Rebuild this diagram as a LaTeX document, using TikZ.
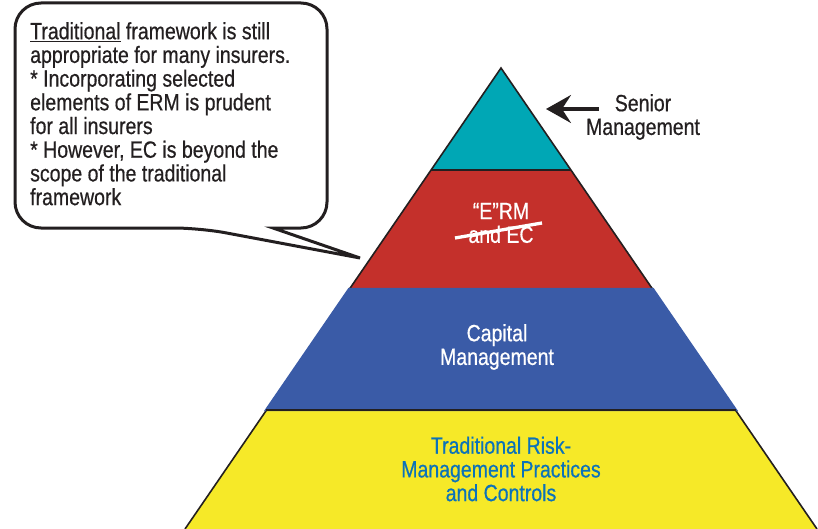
\documentclass[tikz,border=0pt]{standalone}
\usepackage{fontspec}
\setmainfont[FakeStretch=0.83,FakeBold=0.5]{Liberation Sans}
\usetikzlibrary{arrows.meta}
\definecolor{tealband}{HTML}{00A7B5}
\definecolor{redband}{HTML}{C4302B}
\definecolor{blueband}{HTML}{3A5BA7}
\definecolor{yellowband}{HTML}{F6E928}
\definecolor{textblue}{HTML}{0B72BA}
\definecolor{ink}{HTML}{231F20}
\begin{document}
\begin{tikzpicture}[x=1pt,y=-1pt,
  lbl/.style={font=\fontsize{23.5}{23.7}\selectfont, align=center, inner sep=0pt},
  edge/.style={draw=ink, line width=1.6pt, line join=miter},
  callout/.style={draw=ink, line width=3pt, fill=white, line join=miter}]
\useasboundingbox (0,0) rectangle (818,529);
% pyramid corners
\coordinate (apex) at (501,68);
\coordinate (l1) at (431,170); \coordinate (r1) at (571,170);
\coordinate (l2) at (349,289); \coordinate (r2) at (653,289);
\coordinate (l3) at (266,410); \coordinate (r3) at (736,410);
\coordinate (l4) at (185,529); \coordinate (r4) at (817,529);
% bands
\fill[tealband] (apex) -- (r1) -- (l1) -- cycle;
\fill[redband] (l1) -- (r1) -- (r2) -- (l2) -- cycle;
\fill[yellowband] (l3) -- (r3) -- (r4) -- (l4) -- cycle;
\draw[edge] (l4) -- (apex) -- (r4);
\draw[edge] (l1) -- (r1);
\fill[blueband, draw=blueband, line width=2.2pt] (l2) -- (r2) -- (r3) -- (l3) -- cycle;
\draw[edge] (l3) -- (r3);
% callout
\draw[callout] (273,228) [rounded corners=26pt] -- (327,228) -- (327,3) -- (15,3) -- (15,228) -- (200,228) [sharp corners] -- (360,258) -- cycle;
\node[lbl, align=left, anchor=north west, text=ink] (calltext) at (30,22)
  {\underline{Traditional} framework is still\\
   appropriate for many insurers.\\
   * Incorporating selected\\
   elements of ERM is prudent\\
   for all insurers\\
   * However, EC is beyond the\\
   scope of the traditional\\
   framework};
% labels
\node[lbl, text=ink] (senior) at (643,117) {Senior\\Management};
\coordinate (armstart) at (599,109);
\coordinate (armtip) at (546,109);
\draw[ink, line width=3.2pt, -{Stealth[length=25pt,width=28pt,inset=9pt]}] (armstart) -- (armtip);
\node[lbl, text=white] (erm) at (501,223) {“E”RM\\and EC};
\coordinate (s1) at (455,238); \coordinate (s2) at (542,223);
\draw[white, line width=3.3pt] (s1) -- (s2);
\node[lbl, text=white] (capital) at (497,347) {Capital\\Management};
\node[lbl, text=textblue] (trad) at (501,469) {Traditional Risk-\\Management Practices\\and Controls};
\end{tikzpicture}
\end{document}
